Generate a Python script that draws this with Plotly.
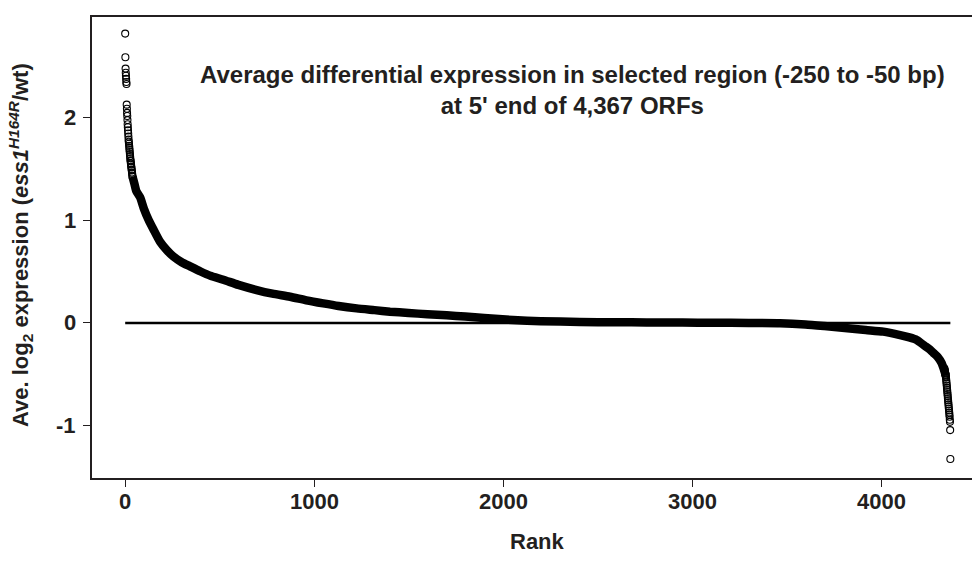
import plotly.graph_objects as go

# ---- data (rank of ORF, average log2 ratio) ----
top_rank = list(range(1, 41))
top_value = [2.81, 2.58, 2.47, 2.43, 2.40, 2.37, 2.34, 2.32, 2.12, 2.08,
             2.04, 2.01, 1.97, 1.93, 1.90, 1.87, 1.84, 1.81, 1.78, 1.76,
             1.74, 1.72, 1.70, 1.68, 1.66, 1.64, 1.62, 1.60, 1.58, 1.57,
             1.55, 1.54, 1.52, 1.51, 1.49, 1.48, 1.46, 1.45, 1.43, 1.42]

band_rank = [40, 50, 60, 80, 100, 125, 150, 185, 220, 256, 300, 344, 400, 450,
             520, 600, 697, 780, 873, 960, 1049, 1130, 1226, 1320, 1402, 1500,
             1600, 1702, 1800, 1900, 2053, 2200, 2407, 2600, 2760, 2950, 3111,
             3300, 3466, 3600, 3700, 3836, 3920, 4012, 4101, 4150, 4189, 4230,
             4260, 4277, 4300, 4321, 4343]
band_value = [1.42, 1.35, 1.28, 1.22, 1.11, 1.00, 0.91, 0.79, 0.71, 0.645, 0.59,
              0.55, 0.50, 0.46, 0.42, 0.37, 0.32, 0.285, 0.255, 0.22, 0.19, 0.165,
              0.142, 0.125, 0.11, 0.097, 0.085, 0.075, 0.062, 0.048, 0.029, 0.018,
              0.010, 0.007, 0.006, 0.004, 0.003, 0.0, -0.003, -0.015, -0.03,
              -0.053, -0.068, -0.084, -0.117, -0.14, -0.165, -0.22, -0.26, -0.29,
              -0.33, -0.39, -0.51]

bottom_rank = list(range(4335, 4368))
bottom_value = [-0.44, -0.45, -0.46, -0.47, -0.48, -0.49, -0.50, -0.51, -0.52, -0.53,
                -0.55, -0.57, -0.59, -0.61, -0.63, -0.65, -0.67, -0.69, -0.71, -0.73,
                -0.75, -0.77, -0.79, -0.81, -0.83, -0.85, -0.87, -0.89, -0.91, -0.94,
                -0.96, -1.04, -1.32]

zero_rank = [1, 4367]
zero_value = [0, 0]

x_ticks = [0, 1000, 2000, 3000, 4000]
x_tick_text = ["0", "1000", "2000", "3000", "4000"]
y_ticks = [-1, 0, 1, 2]
y_tick_text = ["-1", "0", "1", "2"]

INK = "#231f20"
FONT = "Liberation Sans, Arial, Helvetica, sans-serif"
TICKFONT = dict(family=FONT, size=22, color=INK, weight="bold")

fig = go.Figure()
fig.add_trace(go.Scatter(x=zero_rank, y=zero_value, mode="lines",
                         line=dict(color="black", width=2.6), hoverinfo="skip"))
fig.add_trace(go.Scatter(x=band_rank, y=band_value, mode="lines",
                         line=dict(color="black", width=8.5, shape="spline",
                                   smoothing=0.6),
                         hoverinfo="skip"))
fig.add_trace(go.Scatter(x=top_rank + bottom_rank, y=top_value + bottom_value,
                         mode="markers",
                         marker=dict(symbol="circle-open", size=7, color="black",
                                     line=dict(color="black", width=1.1))))

annotations = []
for v, t in zip(x_ticks, x_tick_text):
    annotations.append(dict(text=t, x=v, xref="x", y=-0.0499, yref="paper",
                            xanchor="center", yanchor="middle", showarrow=False,
                            font=TICKFONT))
for v, t in zip(y_ticks, y_tick_text):
    annotations.append(dict(text=t, x=-0.016, xref="paper", y=v, yref="y",
                            xanchor="right", yanchor="middle", showarrow=False,
                            font=TICKFONT))
annotations += [
    dict(text="Average differential expression in selected region (-250 to -50 bp)<br>at 5' end of 4,367 ORFs",
         xref="paper", yref="paper", x=0.5455, y=0.8416,
         xanchor="center", yanchor="middle", showarrow=False, align="center",
         font=dict(family=FONT, size=24, color=INK, weight="bold")),
    dict(text="Rank", xref="paper", yref="paper", x=0.5057, y=-0.1367,
         xanchor="center", yanchor="middle", showarrow=False,
         font=dict(family=FONT, size=22, color=INK, weight="bold")),
    dict(text="Ave. log<sub>2</sub> expression (<i>ess1</i><sup><i>H164R</i></sup>/wt)",
         xref="paper", yref="paper", x=-0.082, y=0.505, textangle=-90,
         xanchor="center", yanchor="middle", showarrow=False,
         font=dict(family=FONT, size=22, color=INK, weight="bold")),
]

fig.update_layout(
    width=972, height=561, autosize=False,
    margin=dict(l=92, r=0, t=17, b=83),
    paper_bgcolor="white", plot_bgcolor="white",
    showlegend=False,
    font=dict(family=FONT, color=INK),
    xaxis=dict(range=[-174.6, 4481.5], tickvals=x_ticks, ticks="outside",
               ticklen=7, tickwidth=1, tickcolor=INK, showgrid=False,
               zeroline=False, showline=True, linewidth=2, linecolor=INK,
               mirror=True, showticklabels=False),
    yaxis=dict(range=[-1.505, 2.971], tickvals=y_ticks, ticks="outside",
               ticklen=7, tickwidth=1, tickcolor=INK, showgrid=False,
               zeroline=False, showline=True, linewidth=2, linecolor=INK,
               mirror=False, showticklabels=False),
    annotations=annotations,
)

fig.write_html("out.html", config={"displayModeBar": False},
               post_script="document.body.style.margin='0';document.body.style.overflow='hidden';")
